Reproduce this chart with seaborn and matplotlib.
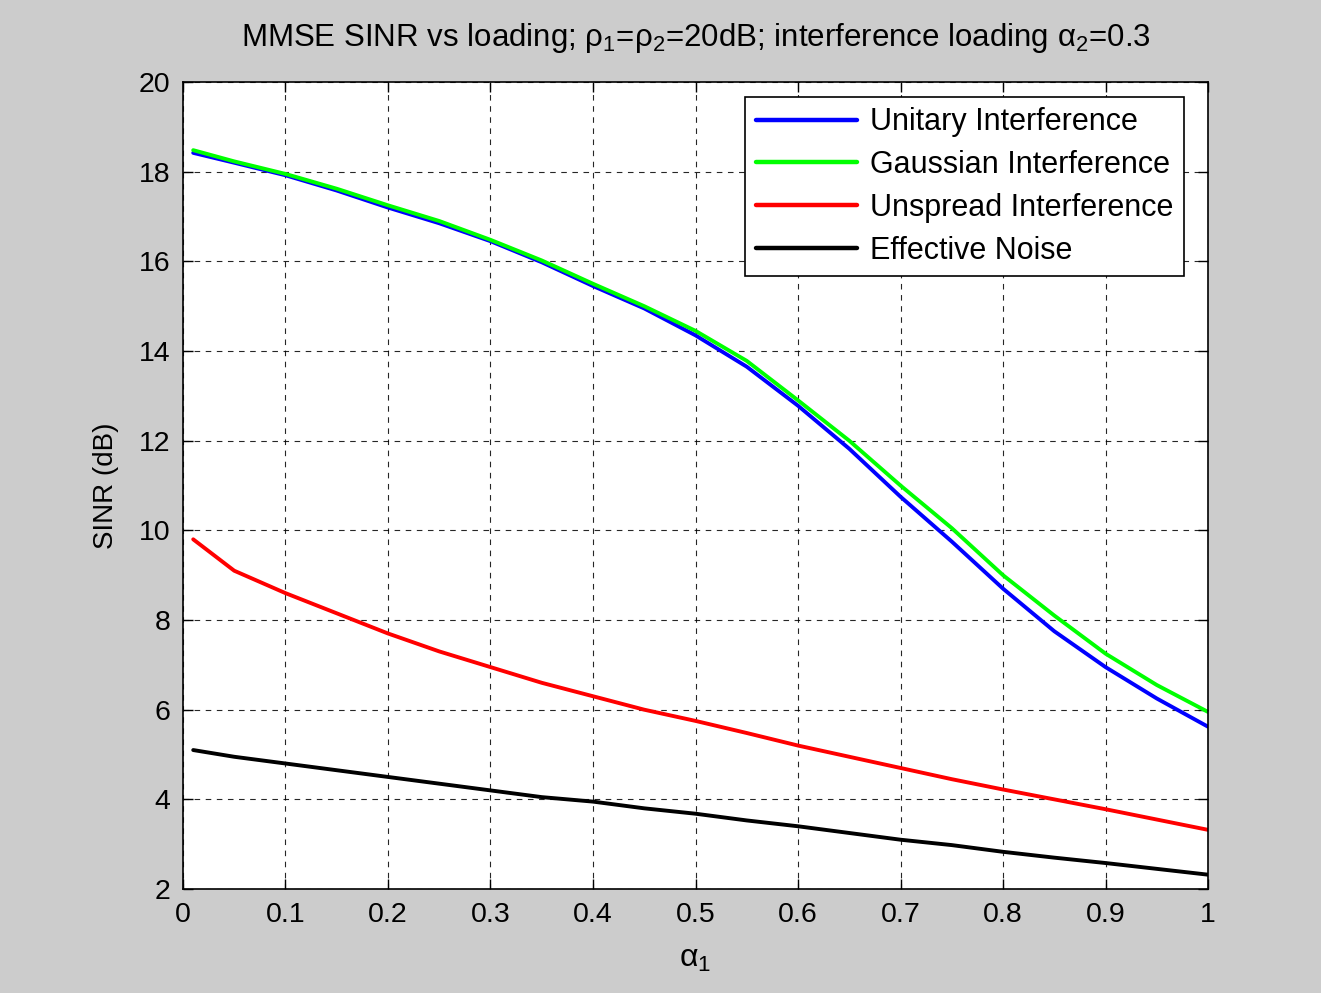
import numpy as np
import pandas as pd
import seaborn as sns
import matplotlib.pyplot as plt
from matplotlib.ticker import FuncFormatter

# alpha_1 sample points
alpha1 = [0.01, 0.05, 0.10, 0.15, 0.20, 0.25, 0.30, 0.35, 0.40, 0.45, 0.50,
          0.55, 0.60, 0.65, 0.70, 0.75, 0.80, 0.85, 0.90, 0.95, 1.00]

unitary = [18.42, 18.20, 17.92, 17.58, 17.20, 16.85, 16.45, 15.98, 15.45, 14.95, 14.35,
           13.65, 12.78, 11.82, 10.75, 9.75, 8.70, 7.75, 6.95, 6.25, 5.62]
gaussian = [18.48, 18.23, 17.95, 17.62, 17.25, 16.90, 16.48, 16.02, 15.50, 15.00, 14.45,
            13.78, 12.90, 12.00, 11.00, 10.05, 9.00, 8.10, 7.25, 6.55, 5.95]
unspread = [9.80, 9.10, 8.60, 8.15, 7.70, 7.30, 6.95, 6.60, 6.30, 6.00, 5.75,
            5.48, 5.20, 4.95, 4.70, 4.45, 4.22, 4.00, 3.78, 3.55, 3.32]
eff_noise = [5.10, 4.95, 4.80, 4.65, 4.50, 4.35, 4.20, 4.05, 3.95, 3.80, 3.68,
             3.53, 3.40, 3.25, 3.10, 2.98, 2.83, 2.70, 2.58, 2.45, 2.32]

series_names = ['Unitary Interference', 'Gaussian Interference',
                'Unspread Interference', 'Effective Noise']
series_vals = [unitary, gaussian, unspread, eff_noise]
colors = ['#0000ff', '#00ff00', '#ff0000', '#000000']

df = pd.concat([pd.DataFrame({'alpha1': alpha1, 'sinr': v, 'series': n})
                for n, v in zip(series_names, series_vals)], ignore_index=True)

sns.set_style('ticks')
plt.rcParams['font.family'] = ['Liberation Sans', 'DejaVu Sans']
plt.rcParams['mathtext.fontset'] = 'custom'
plt.rcParams['mathtext.rm'] = 'Liberation Sans'
plt.rcParams['mathtext.it'] = 'Liberation Sans'
plt.rcParams['text.color'] = 'black'
plt.rcParams['axes.labelcolor'] = 'black'
plt.rcParams['xtick.color'] = 'black'
plt.rcParams['ytick.color'] = 'black'

fig = plt.figure(figsize=(13.21, 9.93), dpi=100, facecolor='#cccccc')
ax = fig.add_axes([0.1385, 0.1047, 0.776, 0.8127])
ax.set_facecolor('white')

sns.lineplot(data=df, x='alpha1', y='sinr', hue='series', hue_order=series_names,
             palette=colors, linewidth=2.8, ax=ax)

ax.set_xlim(0, 1)
ax.set_ylim(2, 20)
ax.set_xticks(np.arange(0, 1.01, 0.1))
ax.set_yticks(np.arange(2, 21, 2))
ax.xaxis.set_major_formatter(FuncFormatter(lambda v, p: f'{v:g}'))
ax.tick_params(direction='in', length=7, width=1, labelsize=20.5, top=True, right=True,
               colors='black', pad=9)
ax.grid(True, color='black', linestyle=(0, (5, 5)), linewidth=0.8, alpha=0.85)
for s in ax.spines.values():
    s.set_visible(True)
    s.set_color('black')
    s.set_linewidth(1.2)

ax.set_xlabel(r'α$_1$', fontsize=23, labelpad=12)
ax.set_ylabel('SINR (dB)', fontsize=20, labelpad=14)
ax.set_title(r'MMSE SINR vs loading; ρ$_1$=ρ$_2$=20dB; interference loading α$_2$=0.3',
             fontsize=22.5, pad=26)

handles, labels = ax.get_legend_handles_labels()
for h in handles:
    h.set_linewidth(3.2)
leg = ax.legend(handles, labels, loc='upper right', bbox_to_anchor=(0.977, 0.982),
                fontsize=22, frameon=True, fancybox=False, edgecolor='black',
                framealpha=1, handlelength=3.3, handletextpad=0.45,
                borderpad=0.35, labelspacing=0.42, borderaxespad=0)
leg.get_frame().set_linewidth(1.2)

fig.savefig('out.png', dpi=100, facecolor=fig.get_facecolor())
